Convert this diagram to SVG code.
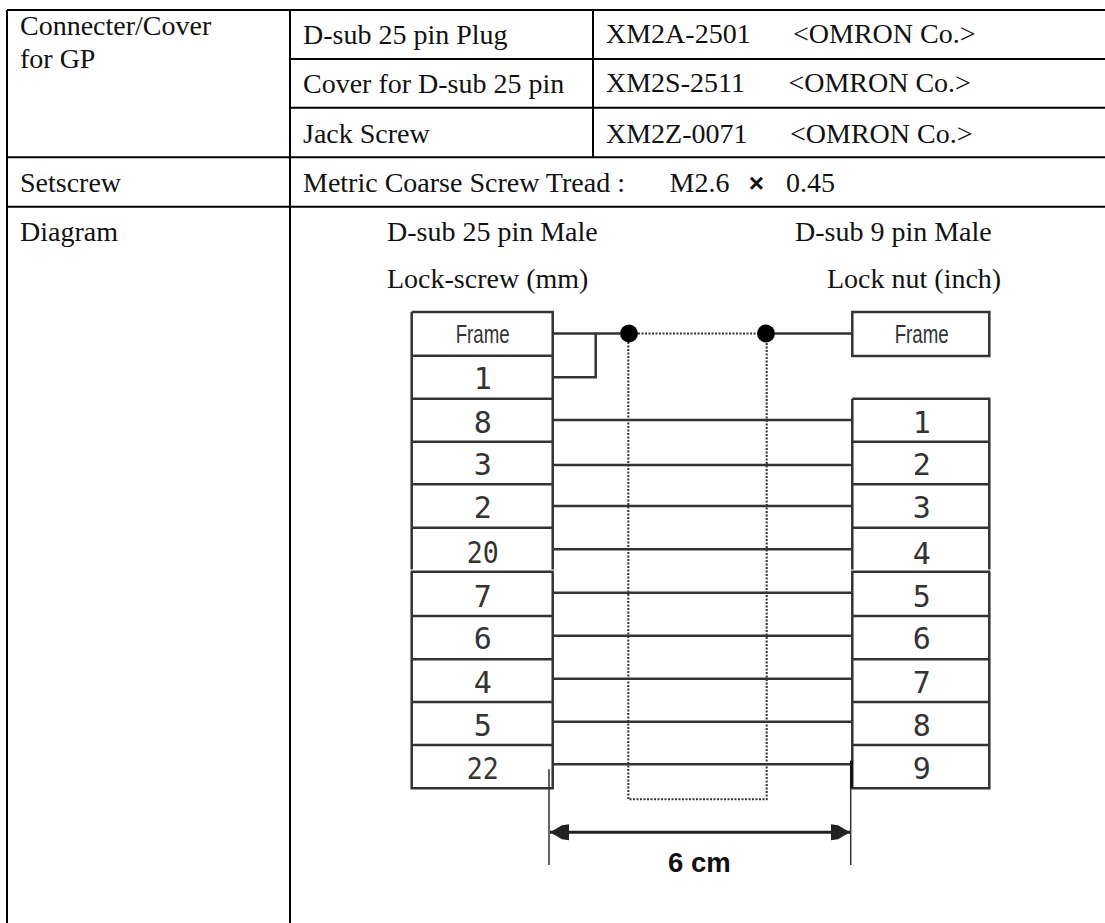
<svg xmlns="http://www.w3.org/2000/svg" width="1105" height="923" viewBox="0 0 1105 923">
<style>
.t{font-family:"Liberation Serif","Times New Roman",serif;font-size:28px;fill:#111}
.g{stroke:#000;stroke-width:2;fill:none}
.b{stroke:#333;stroke-width:2.5;fill:none}
.w{stroke:#333;stroke-width:2.5;fill:none}
.d{stroke:#333;stroke-width:2;stroke-dasharray:2 1.5;fill:none}
.p{font-family:"DejaVu Sans Mono",monospace;font-size:30px;fill:#333;text-anchor:middle}
.f{font-family:"Liberation Sans",Arial,sans-serif;font-size:25px;fill:#333;text-anchor:middle}
</style>
<defs>
<marker id="ar" markerUnits="userSpaceOnUse" markerWidth="20" markerHeight="18" refX="19" refY="9" orient="auto-start-reverse"><path d="M0 1L7 2L19 9L7 16L0 17Z" fill="#222"/></marker>
</defs>
<rect width="1105" height="923" fill="#fff"/>
<g id="table">
<path class="g" d="M7 10H1105M290 59H1105M290 107.7H1105M7 157.3H1105M7 206.7H1105M7 10V923M290 10V923M593 10V157.3"/>
<text class="t" x="20" y="35">Connecter/Cover</text>
<text class="t" x="20" y="68.3">for GP</text>
<text class="t" x="20" y="191.7">Setscrew</text>
<text class="t" x="20" y="241">Diagram</text>
<text class="t" x="303" y="44.3">D-sub 25 pin Plug</text>
<text class="t" x="303" y="92.7">Cover for D-sub 25 pin</text>
<text class="t" x="303" y="142.7">Jack Screw</text>
<text class="t" x="303" y="191.7">Metric Coarse Screw Tread :</text>
<text class="t" x="606" y="43.3">XM2A-2501</text>
<text class="t" x="606" y="92.3">XM2S-2511</text>
<text class="t" x="606" y="142.7">XM2Z-0071</text>
<text class="t" x="793" y="43.3">&lt;OMRON Co.&gt;</text>
<text class="t" x="788.4" y="92.3">&lt;OMRON Co.&gt;</text>
<text class="t" x="790" y="142.7">&lt;OMRON Co.&gt;</text>
<text class="t" x="669.5" y="191.7">M2.6</text>
<text x="756.3" y="191.7" text-anchor="middle" style="font-family:'Liberation Sans',sans-serif;font-size:26px;font-weight:bold;fill:#111">×</text>
<text class="t" x="786" y="191.7">0.45</text>
<text class="t" x="387" y="240.7">D-sub 25 pin Male</text>
<text class="t" x="795" y="240.7">D-sub 9 pin Male</text>
<text class="t" x="387" y="288.3">Lock-screw (mm)</text>
<text class="t" x="827" y="288.3">Lock nut (inch)</text>
</g>
<g id="connectors">
<path class="d" d="M638 333.5H757M628.3 342V799.3H766.7V342"/>
<path class="w" d="M553 333.5H620M553 377.3H595.7V333.5M775 333.5H852.3"/>
<path class="w" d="M553 420H852M553 465H852M553 506H852M553 549.3H852M553 592.7H852M553 635.7H852M553 678.7H852M553 721.7H852M553 764.3H852"/>
<circle cx="629" cy="333.5" r="9" fill="#000"/>
<circle cx="766" cy="333.5" r="9" fill="#000"/>
</g>
<g id="left-connector">
<path class="b" d="M411.7 312H552.7V569.5M411.7 312V569.5M411.7 355.7H552.7M411.7 398.7H552.7M411.7 441.7H552.7M411.7 484.3H552.7M411.7 527.7H552.7M410.7 571.7H553.7M411.7 571.7V788.3H552.7V571.7M411.7 616H552.7M411.7 659.3H552.7M411.7 702H552.7M411.7 745H552.7"/>
<text class="f" x="482.7" y="343.3" textLength="54" lengthAdjust="spacingAndGlyphs">Frame</text>
<text class="p" x="482.7" y="389.3">1</text>
<text class="p" x="482.7" y="432.7">8</text>
<text class="p" x="482.7" y="475">3</text>
<text class="p" x="482.7" y="518.3">2</text>
<text class="p" x="482.7" y="563.3" textLength="32" lengthAdjust="spacingAndGlyphs">20</text>
<text class="p" x="482.7" y="606.7">7</text>
<text class="p" x="482.7" y="649.3">6</text>
<text class="p" x="482.7" y="692.7">4</text>
<text class="p" x="482.7" y="735.7">5</text>
<text class="p" x="482.7" y="779.3" textLength="32" lengthAdjust="spacingAndGlyphs">22</text>
</g>
<g id="right-frame">
<rect class="b" x="852.3" y="312" width="137" height="44"/>
<text class="f" x="921.7" y="343.3" textLength="54" lengthAdjust="spacingAndGlyphs">Frame</text>
</g>
<g id="right-connector">
<path class="b" d="M852.3 398.7H989.3V569.5M852.3 398.7V569.5M852.3 441.7H989.3M852.3 484.3H989.3M852.3 527.7H989.3M851.3 571.7H990.3M852.3 571.7V788.3H989.3V571.7M852.3 616H989.3M852.3 659.3H989.3M852.3 702H989.3M852.3 745H989.3"/>
<text class="p" x="921.7" y="432.7">1</text>
<text class="p" x="921.7" y="475">2</text>
<text class="p" x="921.7" y="518.3">3</text>
<text class="p" x="921.7" y="564">4</text>
<text class="p" x="921.7" y="606.7">5</text>
<text class="p" x="921.7" y="649.3">6</text>
<text class="p" x="921.7" y="692.7">7</text>
<text class="p" x="921.7" y="735.7">8</text>
<text class="p" x="921.7" y="779.3">9</text>
</g>
<g id="dimension">
<path d="M549 769.3V865M850.7 760.7V865" stroke="#333" stroke-width="1.5" fill="none"/>
<path d="M851.5 760.7V788" stroke="#111" stroke-width="2.5" fill="none"/>
<path d="M550 832.3H850" stroke="#222" stroke-width="3" fill="none" marker-start="url(#ar)" marker-end="url(#ar)"/>
<text x="699.3" y="871.7" text-anchor="middle" style="font-family:'Liberation Sans',Arial,sans-serif;font-size:27.5px;font-weight:bold;fill:#111">6 cm</text>
</g>
</svg>
